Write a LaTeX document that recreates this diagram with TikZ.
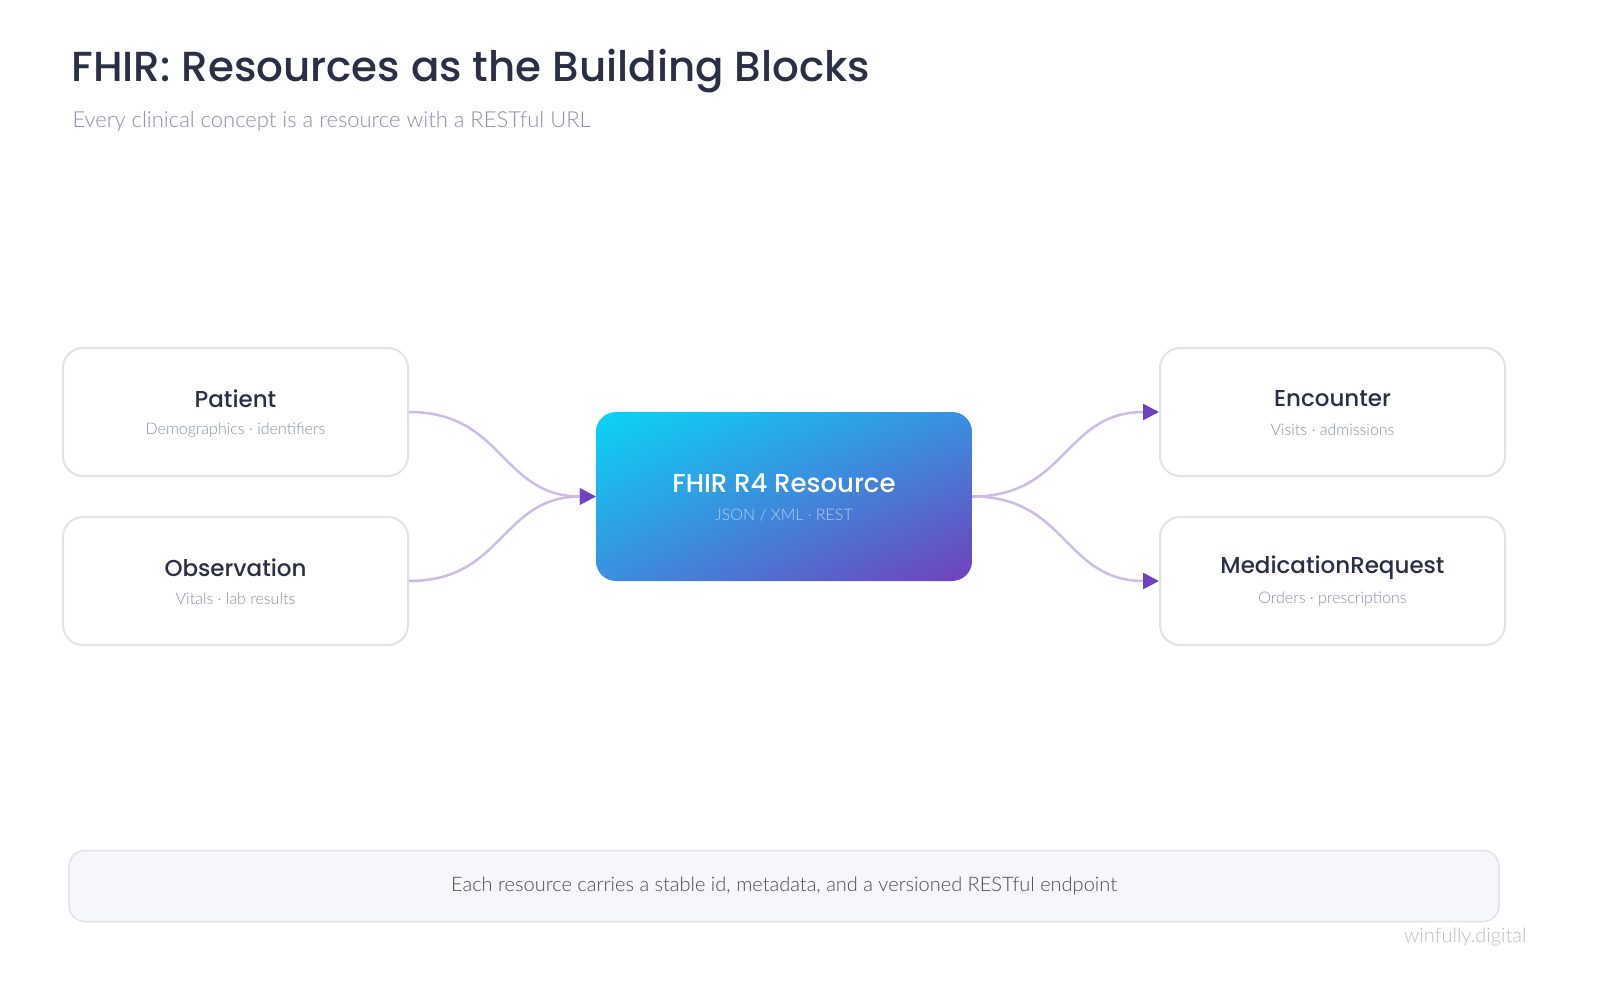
\documentclass[tikz,border=0pt]{standalone}
\usepackage{fontspec}
\setmainfont{Lato}
\newfontfamily\titlefont{Poppins}[UprightFont=* Medium]
\newfontfamily\lightfont{Lato}[UprightFont=* Light]
\usetikzlibrary{arrows.meta,shadings}
\definecolor{ink}{HTML}{2A2F45}
\definecolor{subg}{HTML}{8A8FA8}
\definecolor{boxb}{HTML}{E2E2E8}
\definecolor{linec}{HTML}{CDBDE6}
\definecolor{arrc}{HTML}{6F42C1}
\definecolor{cyanc}{HTML}{0AD4F6}
\definecolor{purc}{HTML}{7140BD}
\definecolor{midc}{HTML}{3A8FE0}
\definecolor{footf}{HTML}{F6F7FB}
\begin{document}
\begin{tikzpicture}[x=1pt,y=-1pt,
  card/.style={draw=boxb,line width=2pt,fill=white,rounded corners=20pt,minimum width=345pt,minimum height=128pt},
  ttl/.style={font=\titlefont\fontsize{23}{26}\selectfont,text=ink},
  sub/.style={font=\lightfont\fontsize{16}{18}\selectfont,text=subg},
  conn/.style={draw=linec,line width=2.5pt,-{Triangle[width=16pt,length=16pt,fill=arrc,color=arrc]}}]
\useasboundingbox (0,0) rectangle (1600,992);
\fill[white] (0,0) rectangle (1600,992);
\node[anchor=base west,font=\titlefont\fontsize{42}{46}\selectfont,text=ink] (title) at (68,82) {FHIR: Resources as the Building Blocks};
\node[anchor=base west,font=\lightfont\fontsize{22}{26}\selectfont,text=subg] (subtitle) at (69,128) {Every clinical concept is a resource with a RESTful URL};
\node[card] (pat) at (235.5,412) {};
\node[card] (obs) at (235.5,581) {};
\node[card] (enc) at (1332.5,412) {};
\node[card] (med) at (1332.5,581) {};
\foreach \n/\a/\b in {pat/Patient/Demographics · identifiers, obs/Observation/Vitals · lab results, enc/Encounter/Visits · admissions, med/MedicationRequest/Orders · prescriptions}{
  \node[ttl] (\n t) at ([yshift=13pt]\n.center) {\a};
  \node[sub] (\n s) at ([yshift=-18pt]\n.center) {\b};
}
\shade[rounded corners=20pt,upper left=cyanc,lower right=purc,upper right=midc,lower left=midc] (596,412) rectangle (972,581);
\node[minimum width=376pt,minimum height=169pt] (core) at (784,496.5) {};
\node[font=\titlefont\fontsize{26}{30}\selectfont,text=white] (coret) at (784,483) {FHIR R4 Resource};
\node[font=\lightfont\fontsize{16}{18}\selectfont,text=white!60!midc] (cores) at (784,515) {JSON / XML · REST};
\draw[conn] (pat.east) .. controls +(95,0) and +(-95,0) .. (core.west);
\draw[conn] (obs.east) .. controls +(95,0) and +(-95,0) .. (core.west);
\draw[conn] (core.east) .. controls +(95,0) and +(-95,0) .. (enc.west);
\draw[conn] (core.east) .. controls +(95,0) and +(-95,0) .. (med.west);
\node[draw=boxb,line width=1.5pt,fill=footf,rounded corners=16pt,minimum width=1430pt,minimum height=71pt,font=\lightfont\fontsize{20}{24}\selectfont,text=black!70] (foot) at (784,886) {Each resource carries a stable id, metadata, and a versioned RESTful endpoint};
\node[anchor=base east,font=\lightfont\fontsize{20}{24}\selectfont,text=black!25] (brand) at (1530,942) {winfully.digital};
\end{tikzpicture}
\end{document}
